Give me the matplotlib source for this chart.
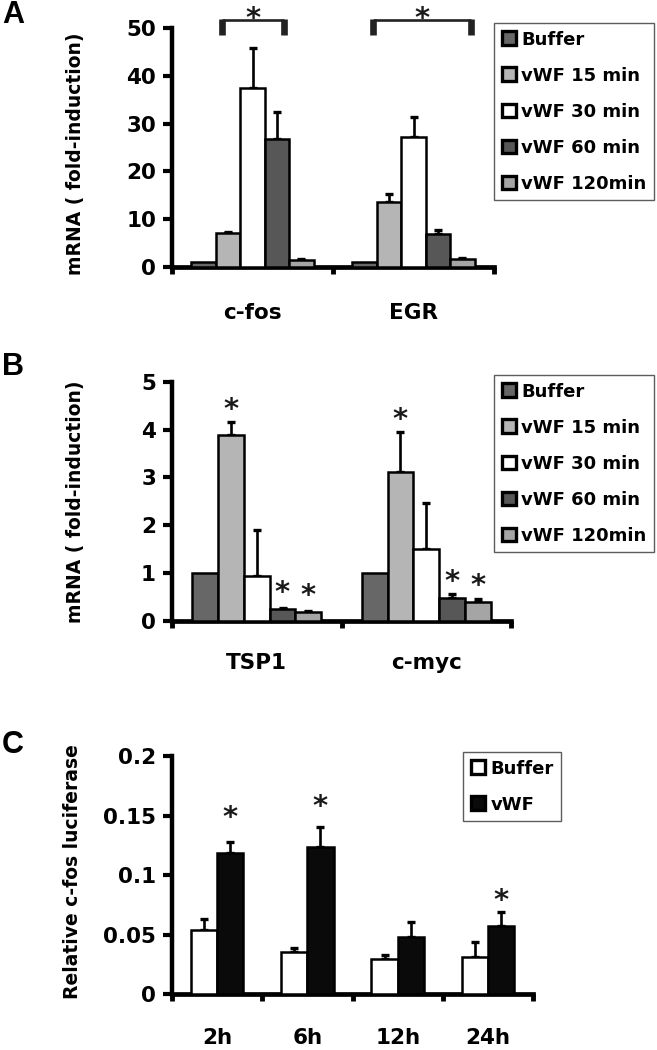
import matplotlib
matplotlib.use("Agg")
import matplotlib.pyplot as plt
import matplotlib.transforms as mtransforms
from matplotlib.patches import Patch
import numpy as np

# ---------------- data ----------------
series_labels = ["Buffer", "vWF 15 min", "vWF 30 min", "vWF 60 min", "vWF 120min"]

genes_A = ["c-fos", "EGR"]
A_buffer = [1.0, 1.0]
A_15 = [7.1, 13.6]
A_30 = [37.5, 27.3]
A_60 = [26.8, 7.0]
A_120 = [1.5, 1.7]
A_buffer_err = [0.0, 0.0]
A_15_err = [0.2, 1.7]
A_30_err = [8.3, 4.1]
A_60_err = [5.7, 0.7]
A_120_err = [0.2, 0.2]

genes_B = ["TSP1", "c-myc"]
B_buffer = [1.0, 1.0]
B_15 = [3.88, 3.12]
B_30 = [0.93, 1.50]
B_60 = [0.26, 0.49]
B_120 = [0.19, 0.40]
B_buffer_err = [0.0, 0.0]
B_15_err = [0.27, 0.82]
B_30_err = [0.98, 0.97]
B_60_err = [0.01, 0.07]
B_120_err = [0.01, 0.07]
# significance stars in B: (category, series index)
B_stars = [(0, 1), (0, 3), (0, 4), (1, 1), (1, 3), (1, 4)]

times_C = ["2h", "6h", "12h", "24h"]
C_labels = ["Buffer", "vWF"]
C_buffer = [0.054, 0.0353, 0.0294, 0.0316]
C_buffer_err = [0.009, 0.0034, 0.0036, 0.0126]
C_vwf = [0.1185, 0.1235, 0.0479, 0.0574]
C_vwf_err = [0.0092, 0.0173, 0.0126, 0.0115]
C_star_idx = [0, 1, 3]
C_star_y = [0.156, 0.165, 0.086]

# ---------------- style ----------------
W, H = 657, 1050
colors5 = ["#676767", "#b5b5b5", "#ffffff", "#575757", "#a5a5a5"]
colorsC = ["#ffffff", "#0a0a0a"]
FONT = "DejaVu Sans"
plt.rcParams["font.family"] = [FONT]
plt.rcParams["font.weight"] = "bold"
TICK_FS = 15.5
XLAB_FS = 15.5
LAB_FS = 13.5
LEG_FS = 13
STAR_FS = 21

fig = plt.figure(figsize=(W / 100, H / 100), dpi=100)


def axes_px(left, right, top, bottom):
    return fig.add_axes([left / W, 1 - bottom / H, (right - left) / W, (bottom - top) / H])


def style(ax, cats, ymax, yticks, ylabels, xpad):
    n = len(cats)
    for s in ["top", "right"]:
        ax.spines[s].set_visible(False)
    ax.spines["left"].set_linewidth(3.2)
    ax.spines["bottom"].set_linewidth(3.4)
    ax.set_xlim(-0.5, n - 0.5)
    ax.set_ylim(0, ymax)
    ax.set_yticks(yticks)
    ax.set_yticklabels(ylabels, fontsize=TICK_FS, fontweight="bold")
    ax.tick_params(axis="y", direction="out", length=6.5, width=3, pad=5)
    ax.set_xticks(range(n))
    ax.set_xticklabels(cats, fontsize=XLAB_FS, fontweight="bold")
    ax.tick_params(axis="x", which="major", length=0, pad=xpad)
    ax.set_xticks(np.arange(n + 1) - 0.5, minor=True)
    ax.tick_params(axis="x", which="minor", direction="out", length=5, width=3.5)


def grouped(ax, means, errs, colors, width):
    k = len(means)
    n = len(means[0])
    x = np.arange(n)
    for i in range(k):
        xs = x + (i - (k - 1) / 2) * width
        ax.bar(xs, means[i], width=width, color=colors[i], edgecolor="black",
               linewidth=1.8, zorder=3)
        if any(e > 0 for e in errs[i]):
            ax.errorbar(xs, means[i], yerr=[np.zeros(n), errs[i]], fmt="none",
                        ecolor="black", elinewidth=1.9, capsize=2.6, capthick=2.4,
                        zorder=2)
    return x


def star(ax, x, y, fs=STAR_FS):
    tr = mtransforms.offset_copy(ax.transData, fig=fig, y=-0.60 * fs, units="points")
    ax.text(x, y, "*", transform=tr, ha="center", va="baseline", fontsize=fs,
            fontweight="bold", color="#1a1a1a", clip_on=False)


def legend(ax, labels, colors, x0, y0):
    handles = [Patch(facecolor=c, edgecolor="black", linewidth=2.4) for c in colors]
    leg = ax.legend(handles, labels, loc="upper left",
                    bbox_to_anchor=(x0 / W, 1 - y0 / H), bbox_transform=fig.transFigure,
                    borderaxespad=0, frameon=True, fancybox=False,
                    prop={"family": FONT, "weight": "bold", "size": LEG_FS},
                    handlelength=0.8, handleheight=0.8, handletextpad=0.3,
                    labelspacing=1.0, borderpad=0.42)
    leg.get_frame().set_edgecolor("#333333")
    leg.get_frame().set_linewidth(1.0)
    return leg


def panel_letter(x, y, s):
    fig.text(x / W, 1 - y / H, s, fontsize=22, fontweight="bold",
             family="Liberation Sans", ha="left", va="center")


# ---------------- Panel A ----------------
axA = axes_px(172, 494, 28, 267)
style(axA, genes_A, 50, [0, 10, 20, 30, 40, 50], ["0", "10", "20", "30", "40", "50"], 26)
wA = 0.152
grouped(axA, [A_buffer, A_15, A_30, A_60, A_120],
        [A_buffer_err, A_15_err, A_30_err, A_60_err, A_120_err], colors5, wA)
axA.set_ylabel("mRNA ( fold-induction)", fontsize=LAB_FS, fontweight="bold", va="center")
axA.yaxis.set_label_coords((76 - 172) / (494 - 172), 0.475)
# brackets
for (x1, x2) in [(-0.19, 0.196), (0.748, 1.357)]:
    axA.plot([x1, x2], [51.7, 51.7], color="#222222", lw=1.9, clip_on=False,
             solid_capstyle="butt")
    for xx in (x1, x2):
        axA.plot([xx, xx], [48.6, 51.9], color="#222222", lw=4.8, clip_on=False,
                 solid_capstyle="butt")
    star(axA, (x1 + x2) / 2 + 0.0, 53.8)
legend(axA, series_labels, colors5, 494, 23)
panel_letter(2, 15, "A")

# ---------------- Panel B ----------------
axB = axes_px(172, 511, 381.7, 621)
style(axB, genes_B, 5, [0, 1, 2, 3, 4, 5], ["0", "1", "2", "3", "4", "5"], 23)
wB = 0.152
meansB = [B_buffer, B_15, B_30, B_60, B_120]
errsB = [B_buffer_err, B_15_err, B_30_err, B_60_err, B_120_err]
xB = grouped(axB, meansB, errsB, colors5, wB)
for (c, s) in B_stars:
    top = meansB[s][c] + errsB[s][c]
    ypix_off = 0.45 if top > 0.4 else 0.52
    star(axB, xB[c] + (s - 2) * wB, top + ypix_off)
axB.set_ylabel("mRNA ( fold-induction)", fontsize=LAB_FS, fontweight="bold", va="center")
axB.yaxis.set_label_coords((76 - 172) / (511 - 172), 0.5)
legend(axB, series_labels, colors5, 494, 375)
panel_letter(2, 367, "B")

# ---------------- Panel C ----------------
axC = axes_px(172, 533, 756, 994.3)
style(axC, times_C, 0.2, [0, 0.05, 0.1, 0.15, 0.2], ["0", "0.05", "0.1", "0.15", "0.2"], 24)
wC = 0.29
xC = grouped(axC, [C_buffer, C_vwf], [C_buffer_err, C_vwf_err], colorsC, wC)
for i, y in zip(C_star_idx, C_star_y):
    star(axC, xC[i] + 0.5 * wC, y)
axC.set_ylabel("Relative c-fos luciferase", fontsize=LAB_FS, fontweight="bold", va="center")
axC.yaxis.set_label_coords((73 - 172) / (533 - 172), 0.515)
legend(axC, C_labels, colorsC, 463, 752)
panel_letter(2, 745, "C")

fig.savefig("out.png", dpi=100)
